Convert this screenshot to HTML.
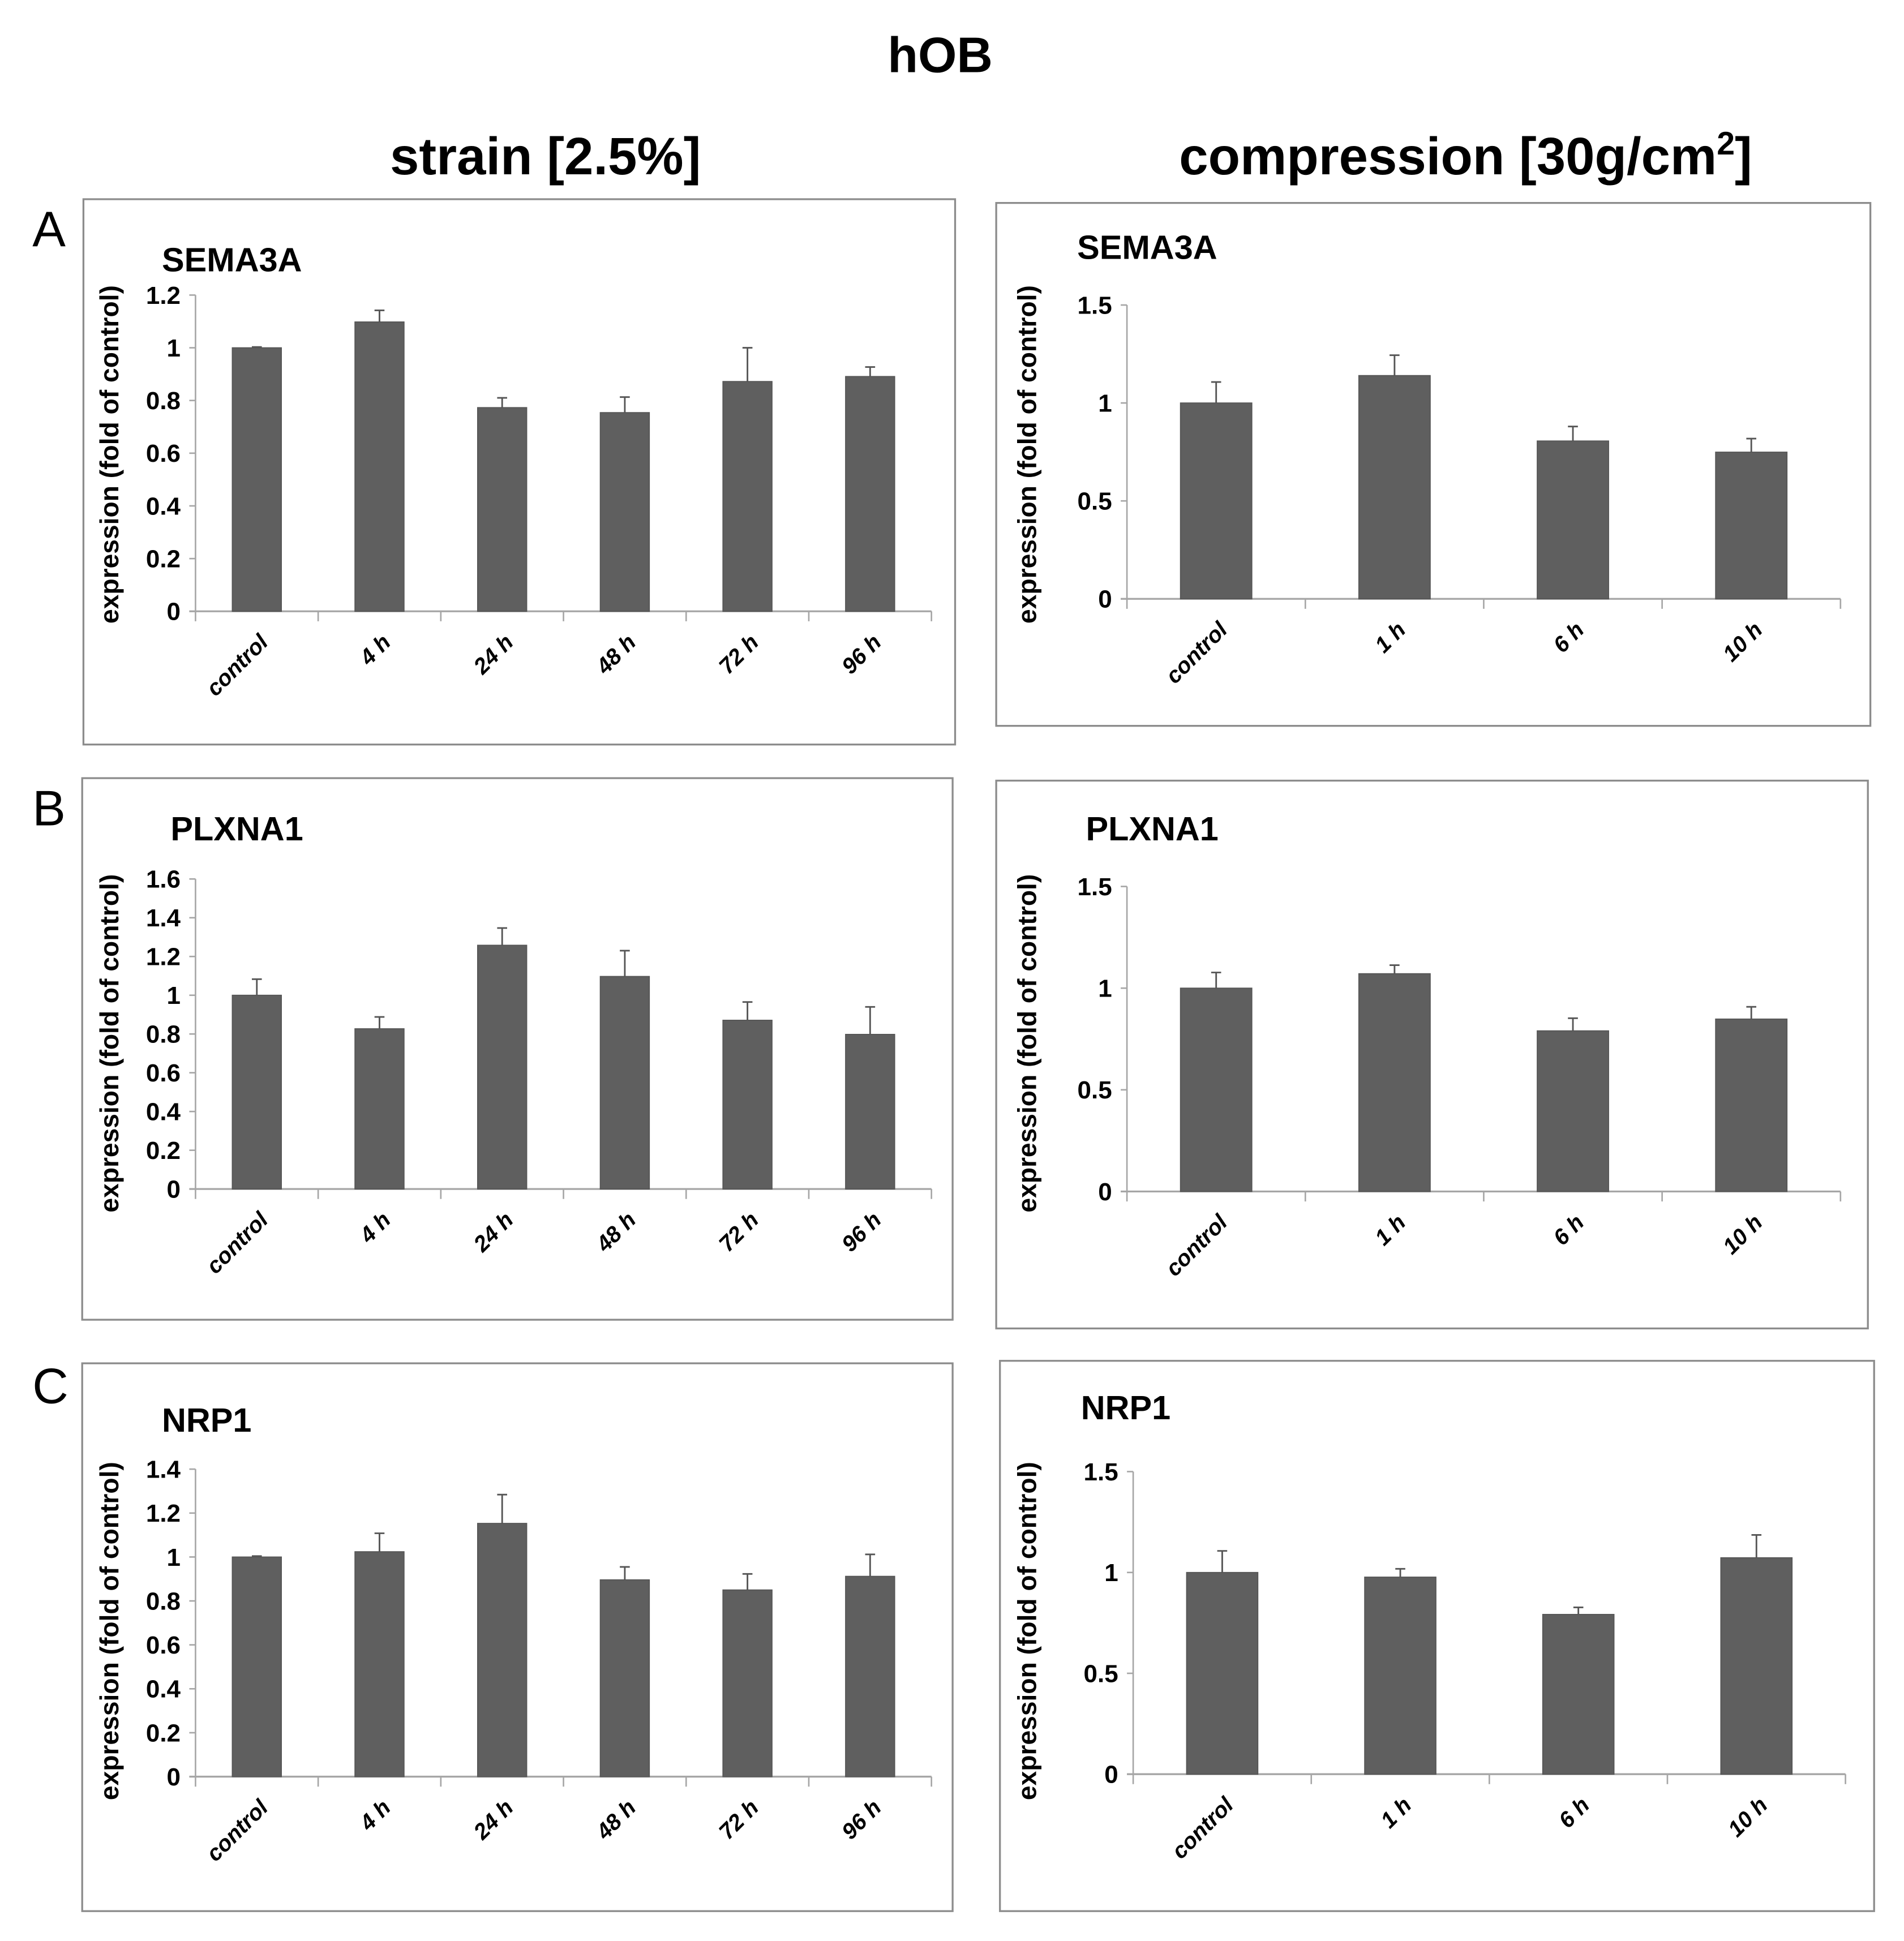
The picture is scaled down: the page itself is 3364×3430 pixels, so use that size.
<!DOCTYPE html>
<html><head><meta charset="utf-8"><style>
html,body{margin:0;padding:0;background:#fff}
svg{display:block}
text{font-family:"Liberation Sans",sans-serif;fill:#000}
</style></head><body>
<svg id="fig" width="3364" height="3430" viewBox="0 0 1529 1559" preserveAspectRatio="none" xmlns="http://www.w3.org/2000/svg">
<text x="755" y="58" text-anchor="middle" font-size="40" font-weight="bold">hOB</text>
<text x="438" y="140" text-anchor="middle" font-size="42" font-weight="bold">strain [2.5%]</text>
<text x="1177" y="140" text-anchor="middle" font-size="42" font-weight="bold">compression [30g/cm<tspan font-size="26" dy="-16">2</tspan><tspan dy="16">]</tspan></text>
<text x="26" y="198" font-size="40">A</text>
<text x="26" y="663" font-size="40">B</text>
<text x="26" y="1127" font-size="40">C</text>
</svg>
<script>
const strainCats = ["control","4 h","24 h","48 h","72 h","96 h"];
const compCats = ["control","1 h","6 h","10 h"];
const semaStrainVals = [1.0,1.098,0.773,0.754,0.872,0.891];
const semaStrainErr = [0.003,0.044,0.037,0.059,0.128,0.036];
const semaCompVals = [1.0,1.14,0.806,0.749];
const semaCompErr = [0.107,0.104,0.074,0.069];
const plxStrainVals = [1.0,0.827,1.258,1.097,0.871,0.798];
const plxStrainErr = [0.083,0.061,0.089,0.133,0.094,0.142];
const plxCompVals = [1.0,1.071,0.79,0.848];
const plxCompErr = [0.077,0.042,0.062,0.06];
const nrpStrainVals = [1.0,1.024,1.153,0.896,0.85,0.912];
const nrpStrainErr = [0.004,0.084,0.131,0.059,0.073,0.1];
const nrpCompVals = [1.0,0.977,0.792,1.073];
const nrpCompErr = [0.107,0.041,0.035,0.113];
const strainTicks1 = ["0","0.2","0.4","0.6","0.8","1","1.2"];
const strainTicks2 = ["0","0.2","0.4","0.6","0.8","1","1.2","1.4","1.6"];
const strainTicks3 = ["0","0.2","0.4","0.6","0.8","1","1.2","1.4"];
const compTicks = ["0","0.5","1","1.5"];

const NS="http://www.w3.org/2000/svg";
const svg=document.getElementById('fig');
function mk(tag,attrs,parent){const e=document.createElementNS(NS,tag);for(const k in attrs)e.setAttribute(k,attrs[k]);(parent||svg).appendChild(e);return e;}

function panel(cfg){
  const g=mk('g',{});
  
  
  const box=mk('rect',{x:cfg.box[0],y:cfg.box[1],width:cfg.box[2]-cfg.box[0],height:cfg.box[3]-cfg.box[1],fill:'#fff',stroke:'#8c8c8c','stroke-width':1.5},g);
  
  
  const t=mk('text',{x:cfg.title[0],y:cfg.title[1],'font-size':27,'font-weight':'bold'},g);
  t.textContent=cfg.gene;
  
  
  const yl=mk('text',{x:0,y:0,'font-size':21,'font-weight':'bold','text-anchor':'middle',transform:`translate(${cfg.ylab[0]},${cfg.ylab[1]}) rotate(-90)`},g);
  yl.textContent='expression (fold of control)';
  
  
  const x0=cfg.ax[0], y0=cfg.ax[1], yTop=cfg.ax[2], x1=cfg.ax[3];
  const ticks=cfg.ticks, tmax=parseFloat(ticks[ticks.length-1]);
  const yS=v=>y0-(v/tmax)*(y0-yTop);
  const n=cfg.cats.length, cw=(x1-x0)/n;
  const xS=i=>x0+cw*(i+0.5);
  // y axis
  const ya=mk('line',{x1:x0,y1:yTop,x2:x0,y2:y0,stroke:'#a6a6a6','stroke-width':1.2},g);
  
  
  ticks.forEach(tk=>{
    const v=parseFloat(tk), y=yS(v);
    mk('line',{x1:x0-5,y1:y,x2:x0,y2:y,stroke:'#a6a6a6','stroke-width':1.2},g);
    const tl=mk('text',{x:x0-12,y:y+7,'font-size':20,'font-weight':'bold','text-anchor':'end'},g);
    tl.textContent=tk;
    
    
  });
  const xa=mk('line',{x1:x0-5,y1:y0,x2:x1,y2:y0,stroke:'#a6a6a6','stroke-width':1.5},g);
  
  
  for(let i=0;i<=n;i++){mk('line',{x1:x0+cw*i,y1:y0,x2:x0+cw*i,y2:y0+8,stroke:'#a6a6a6','stroke-width':1.2},g);}
  const bw=cw*0.4;
  cfg.vals.forEach((v,i)=>{
    const cx=xS(i), top=yS(v), et=yS(v+cfg.err[i]);
    const b=mk('rect',{x:cx-bw/2,y:top,width:bw,height:y0-top,fill:'#5f5f5f',stroke:'#555','stroke-width':0.8},g);
    
    
    const e=mk('path',{d:`M${cx},${top}V${et}M${cx-4},${et}H${cx+4}`,stroke:'#555','stroke-width':1.3,fill:'none'},g);
    
    
    const cl=mk('text',{x:0,y:0,'font-size':18,'font-weight':'bold','font-style':'italic','text-anchor':'end',transform:`translate(${cx+10},${y0+26}) rotate(-45)`},g);
    cl.textContent=cfg.cats[i];
    
    
  });
}
panel({name:'sema3a-strain-chart',gene:'SEMA3A',box:[67,160,767,598],title:[130,218],ylab:[95,365],ax:[157,491,237,748],ticks:strainTicks1,cats:strainCats,vals:semaStrainVals,err:semaStrainErr});
panel({name:'sema3a-compression-chart',gene:'SEMA3A',box:[800,163,1502,583],title:[865,208],ylab:[832,365],ax:[905,481,245,1478],ticks:compTicks,cats:compCats,vals:semaCompVals,err:semaCompErr});
panel({name:'plxna1-strain-chart',gene:'PLXNA1',box:[66,625,765,1060],title:[137,675],ylab:[95,838],ax:[157,955,706,748],ticks:strainTicks2,cats:strainCats,vals:plxStrainVals,err:plxStrainErr});
panel({name:'plxna1-compression-chart',gene:'PLXNA1',box:[800,627,1500,1067],title:[872,675],ylab:[832,838],ax:[905,957,712,1478],ticks:compTicks,cats:compCats,vals:plxCompVals,err:plxCompErr});
panel({name:'nrp1-strain-chart',gene:'NRP1',box:[66,1095,765,1535],title:[130,1150],ylab:[95,1310],ax:[157,1427,1180,748],ticks:strainTicks3,cats:strainCats,vals:nrpStrainVals,err:nrpStrainErr});
panel({name:'nrp1-compression-chart',gene:'NRP1',box:[803,1093,1505,1535],title:[868,1140],ylab:[832,1310],ax:[910,1425,1182,1482],ticks:compTicks,cats:compCats,vals:nrpCompVals,err:nrpCompErr});
</script>
</body></html>
